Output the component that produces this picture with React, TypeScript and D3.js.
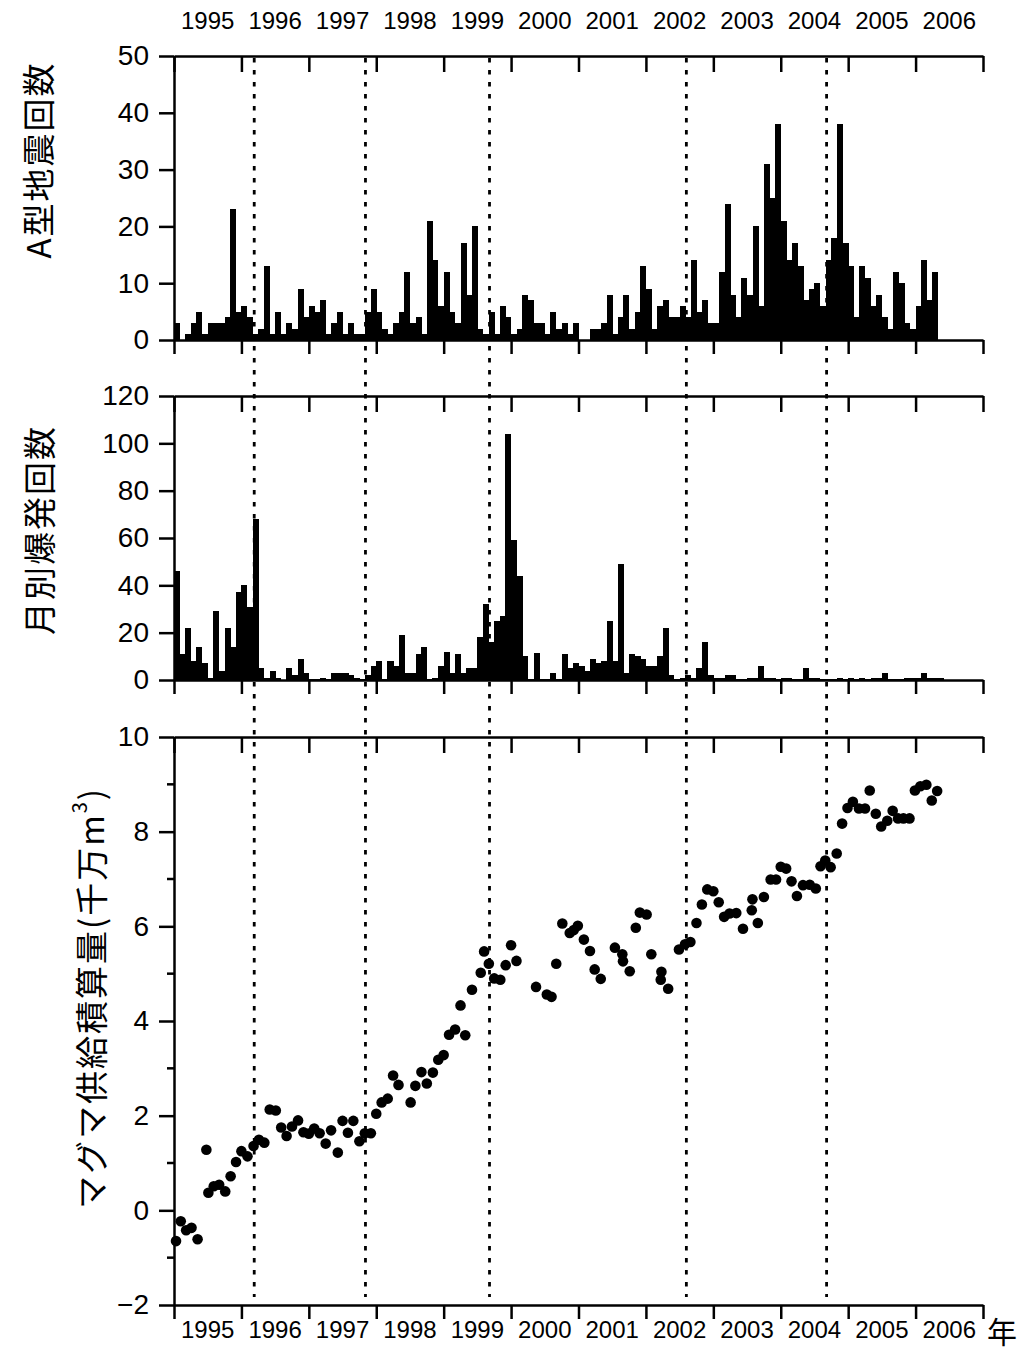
import React, { useEffect, useRef } from "react";
import * as d3 from "d3";

// year axis
const yearLabels = ["1995", "1996", "1997", "1998", "1999", "2000", "2001", "2002", "2003", "2004", "2005", "2006"];
const yearTicks = [1995, 1996, 1997, 1998, 1999, 2000, 2001, 2002, 2003, 2004, 2005, 2006, 2007];

// dotted reference lines (eruption dates, decimal years)
const eruptionDates = [1996.19, 1997.84, 1999.68, 2002.6, 2004.68];

// monthly A-type earthquake counts from Jan 1995
const aTypeCounts = [
  3, 0, 1, 3, 5, 1, 3, 3, 3, 4, 23, 5, 6, 4, 1, 2, 13, 1, 5, 1, 3, 2, 9, 4,
  6, 5, 7, 1, 3, 5, 1, 3, 1, 1, 5, 9, 5, 2, 1, 3, 5, 12, 3, 4, 1, 21, 14, 6,
  12, 5, 3, 17, 8, 20, 2, 1, 5, 1, 6, 4, 1, 2, 8, 7, 3, 3, 1, 5, 2, 3, 1, 3,
  0, 0, 2, 2, 3, 8, 1, 4, 8, 2, 5, 13, 9, 2, 6, 7, 4, 4, 6, 4, 14, 5, 7, 3,
  3, 12, 24, 8, 4, 11, 8, 20, 6, 31, 25, 38, 21, 14, 17, 13, 7, 9, 10, 6, 14, 18, 38, 17,
  13, 4, 13, 11, 6, 8, 4, 2, 12, 10, 3, 2, 6, 14, 7, 12,
];

// monthly explosion counts from Jan 1995
const explosionCounts = [
  46, 11, 22, 8, 14, 7, 1, 29, 4, 22, 14, 37, 40, 31, 68, 5, 1, 4, 1, 0, 5, 2, 9, 3,
  0.5, 0.5, 1, 0.5, 3, 3, 3, 2, 1, 0.5, 2, 6, 8, 0.5, 8, 6, 19, 3, 3, 11, 14, 0.5, 1, 6,
  12, 3, 11, 3, 5, 5, 18, 32, 16, 25, 27, 104, 59, 44, 10, 0.5, 11.5, 0.5, 0.5, 3, 0.5, 11, 5, 7,
  6, 4, 9, 7, 8, 25, 8, 49, 3, 11, 10, 9, 6, 6, 10, 22, 2, 0.5, 1, 2, 1, 5, 16, 2,
  1, 1, 2, 2, 0.5, 0.5, 1, 1, 6, 1, 1, 0.5, 1, 1, 0.5, 0.5, 5, 1, 1, 0.5, 0.5, 0.5, 1, 0.5,
  1, 0.5, 1, 0.5, 1, 1, 3, 0.5, 0.5, 0.5, 1, 1, 1, 3, 1, 1, 1,
];

// cumulative magma supply (10^7 m3)
const magmaTimes = [
  1995.03, 1995.1, 1995.18, 1995.26, 1995.35, 1995.48, 1995.51, 1995.59, 1995.67, 1995.76, 1995.84, 1995.92,
  1996.0, 1996.09, 1996.18, 1996.26, 1996.34, 1996.42, 1996.51, 1996.59, 1996.67, 1996.75, 1996.84, 1996.92,
  1997.0, 1997.08, 1997.16, 1997.25, 1997.33, 1997.43, 1997.5, 1997.58, 1997.66, 1997.75, 1997.83, 1997.92,
  1998.0, 1998.08, 1998.17, 1998.25, 1998.33, 1998.51, 1998.58, 1998.67, 1998.75, 1998.84, 1998.92,
  1999.0, 1999.08, 1999.17, 1999.25, 1999.32, 1999.42, 1999.55, 1999.6, 1999.67, 1999.75, 1999.84, 1999.92,
  2000.0, 2000.08, 2000.37, 2000.53, 2000.6, 2000.67, 2000.76, 2000.87, 2000.93, 2000.99,
  2001.08, 2001.17, 2001.24, 2001.33, 2001.54, 2001.65, 2001.66, 2001.76, 2001.85, 2001.91,
  2002.01, 2002.08, 2002.22, 2002.23, 2002.33, 2002.49, 2002.58, 2002.66, 2002.75, 2002.83, 2002.91,
  2003.0, 2003.08, 2003.16, 2003.24, 2003.34, 2003.44, 2003.57, 2003.58, 2003.66, 2003.75, 2003.85, 2003.93,
  2004.0, 2004.08, 2004.16, 2004.24, 2004.33, 2004.43, 2004.52, 2004.59, 2004.66, 2004.74, 2004.83, 2004.91,
  2004.99, 2005.07, 2005.16, 2005.25, 2005.32, 2005.41, 2005.49, 2005.58, 2005.66, 2005.74, 2005.82, 2005.91,
  2005.99, 2006.07, 2006.16, 2006.24, 2006.32,
];
const magmaVolumes = [
  -0.65, -0.23, -0.42, -0.37, -0.61, 1.28, 0.37, 0.51, 0.54, 0.4, 0.72, 1.02,
  1.25, 1.14, 1.36, 1.49, 1.43, 2.13, 2.11, 1.75, 1.57, 1.77, 1.9, 1.65,
  1.62, 1.73, 1.63, 1.41, 1.69, 1.22, 1.89, 1.64, 1.89, 1.46, 1.63, 1.63,
  2.04, 2.28, 2.36, 2.85, 2.65, 2.28, 2.63, 2.92, 2.68, 2.91, 3.18,
  3.28, 3.71, 3.82, 4.33, 3.7, 4.66, 5.02, 5.47, 5.21, 4.9, 4.87, 5.18,
  5.6, 5.27, 4.72, 4.56, 4.51, 5.21, 6.06, 5.86, 5.92, 6.01,
  5.72, 5.48, 5.09, 4.89, 5.55, 5.41, 5.26, 5.05, 5.97, 6.29,
  6.25, 5.41, 4.87, 5.04, 4.68, 5.51, 5.62, 5.67, 6.07, 6.46, 6.78,
  6.74, 6.51, 6.2, 6.27, 6.28, 5.95, 6.34, 6.57, 6.07, 6.62, 6.99, 6.99,
  7.26, 7.22, 6.95, 6.64, 6.87, 6.88, 6.8, 7.27, 7.39, 7.25, 7.54, 8.17,
  8.5, 8.63, 8.49, 8.49, 8.87, 8.38, 8.11, 8.23, 8.44, 8.28, 8.28, 8.28,
  8.87, 8.96, 8.99, 8.66, 8.86,
];

// y ticks
const quakeTicks = [0, 10, 20, 30, 40, 50];
const explosionTicks = [0, 20, 40, 60, 80, 100, 120];
const magmaTicks = [-2, 0, 2, 4, 6, 8, 10];
const magmaMinorTicks = [-1, 1, 3, 5, 7, 9];

const quakeTitle = "A型地震回数";
const explosionTitle = "月別爆発回数";
const magmaTitle = "マグマ供給積算量(千万m";

const NUM_FONT = "'Liberation Sans', Arial, sans-serif";
const JP_FONT = "'Noto Sans CJK JP', 'Noto Sans', sans-serif";

const App = () => {
  const svgRef = useRef(null);

  useEffect(() => {
    const svg = d3.select(svgRef.current);
    svg.selectAll("*").remove();

    const x = d3.scaleLinear().domain([1995, 2007]).range([174, 983]);
    const month = 1 / 12;

    const yQuake = d3.scaleLinear().domain([0, 50]).range([340, 56]);
    const yExpl = d3.scaleLinear().domain([0, 120]).range([680, 396]);
    const yMagma = d3.scaleLinear().domain([-2, 10]).range([1305, 737]);

    // shared axis styling
    const styleAxis = (g) => {
      g.attr("font-family", NUM_FONT).attr("font-size", 28);
      g.select(".domain").attr("stroke", "#000").attr("stroke-width", 2.5);
      g.selectAll(".tick line").attr("stroke", "#000").attr("stroke-width", 2.5);
      g.selectAll(".tick text").attr("fill", "#000");
    };

    // frame (top axis with inward ticks, bottom axis with outward ticks) + left axis
    const drawFrame = (y, ticks) => {
      const [bottom, top] = y.range();
      svg
        .append("g")
        .attr("transform", `translate(0,${top})`)
        .call(d3.axisTop(x).tickValues(yearTicks).tickSize(-16).tickSizeOuter(0).tickFormat(() => ""))
        .call(styleAxis);
      svg
        .append("g")
        .attr("transform", `translate(0,${bottom})`)
        .call(d3.axisBottom(x).tickValues(yearTicks).tickSize(14).tickSizeOuter(0).tickFormat(() => ""))
        .call(styleAxis);
      svg
        .append("g")
        .attr("transform", `translate(${x(1995)},0)`)
        .call(d3.axisLeft(y).tickValues(ticks).tickSize(15).tickPadding(10).tickSizeOuter(0))
        .call(styleAxis);
    };

    // bars
    const drawBars = (values, y) => {
      svg
        .append("g")
        .selectAll("rect")
        .data(values)
        .enter()
        .append("rect")
        .attr("x", (d, i) => x(1995 + i * month))
        .attr("width", x(1995 + month) - x(1995) + 0.4)
        .attr("y", (d) => y(d))
        .attr("height", (d) => y(0) - y(d))
        .attr("fill", "#000")
        .attr("shape-rendering", "crispEdges");
    };

    drawBars(aTypeCounts, yQuake);
    drawBars(explosionCounts, yExpl);

    // scatter
    svg
      .append("g")
      .selectAll("circle")
      .data(magmaTimes)
      .enter()
      .append("circle")
      .attr("cx", (d) => x(d))
      .attr("cy", (d, i) => yMagma(magmaVolumes[i]))
      .attr("r", 5.3)
      .attr("fill", "#000");

    drawFrame(yQuake, quakeTicks);
    drawFrame(yExpl, explosionTicks);
    drawFrame(yMagma, magmaTicks);

    // minor ticks on the magma axis
    svg
      .append("g")
      .selectAll("line")
      .data(magmaMinorTicks)
      .enter()
      .append("line")
      .attr("x1", x(1995) - 7)
      .attr("x2", x(1995))
      .attr("y1", (d) => yMagma(d))
      .attr("y2", (d) => yMagma(d))
      .attr("stroke", "#000")
      .attr("stroke-width", 2.5);

    // dotted eruption lines
    svg
      .append("g")
      .selectAll("line")
      .data(eruptionDates)
      .enter()
      .append("line")
      .attr("x1", (d) => x(d))
      .attr("x2", (d) => x(d))
      .attr("y1", yQuake(50) + 2)
      .attr("y2", 1297)
      .attr("stroke", "#000")
      .attr("stroke-width", 2.8)
      .attr("stroke-dasharray", "4.5,7.5");

    // year labels, top and bottom
    const yearText = (yPos) =>
      svg
        .append("g")
        .selectAll("text")
        .data(yearLabels)
        .enter()
        .append("text")
        .attr("x", (d) => x(+d + 0.5))
        .attr("y", yPos)
        .attr("text-anchor", "middle")
        .attr("font-family", NUM_FONT)
        .attr("font-size", 24)
        .attr("fill", "#000")
        .text((d) => d);
    yearText(29);
    yearText(1338);

    svg
      .append("text")
      .attr("x", 1002)
      .attr("y", 1343)
      .attr("text-anchor", "middle")
      .attr("font-family", JP_FONT)
      .attr("font-size", 30)
      .text("年");

    // y-axis titles
    const yTitle = (label, cx, cy) =>
      svg
        .append("text")
        .attr("transform", `translate(${cx},${cy}) rotate(-90)`)
        .attr("text-anchor", "middle")
        .attr("dominant-baseline", "central")
        .attr("font-family", JP_FONT)
        .attr("font-size", 33)
        .attr("letter-spacing", 2)
        .attr("fill", "#000")
        .text(label);

    yTitle(quakeTitle, 37, 160);
    yTitle(explosionTitle, 38, 530);
    const mt = yTitle(magmaTitle, 90, 998);
    mt.append("tspan").attr("font-size", 20).attr("dy", -12).text("3");
    mt.append("tspan").attr("dy", 12).text(")");
  }, []);

  return (
    <svg
      ref={svgRef}
      width={1025}
      height={1353}
      style={{ position: "absolute", left: 0, top: 0, background: "#fff" }}
    />
  );
};

export default App;
